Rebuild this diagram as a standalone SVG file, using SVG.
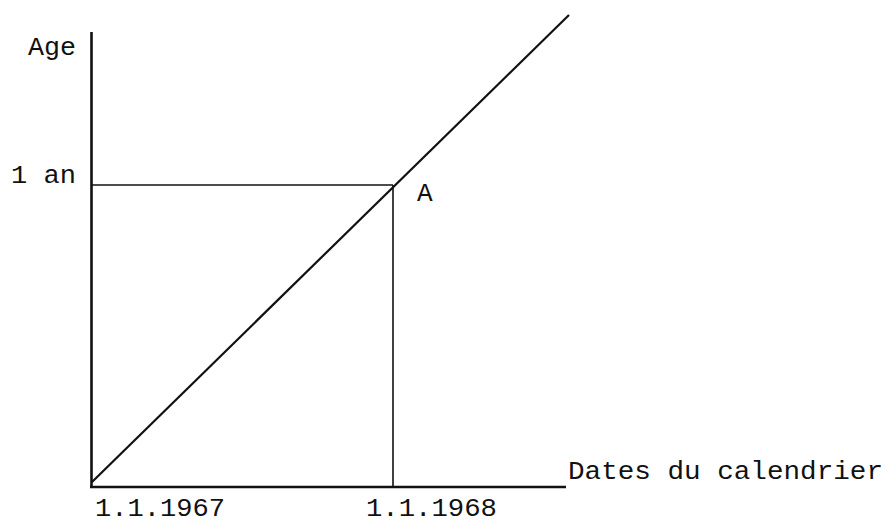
<svg xmlns="http://www.w3.org/2000/svg" width="890" height="526" viewBox="0 0 890 526">
<style>
.t{font-family:"Liberation Mono","Courier New",monospace;font-size:26px;fill:#111}
.ax{stroke:#111;stroke-width:2.6;fill:none}
.ln{stroke:#111;stroke-width:1.6;fill:none}
.dg{stroke:#111;stroke-width:2.2;fill:none}
</style>
<rect width="890" height="526" fill="#fff"/>
<g id="connectors">
<line class="ax" x1="91.5" y1="32" x2="91.5" y2="488"/>
<line class="ax" x1="90" y1="487" x2="566" y2="487"/>
<line class="ln" x1="92" y1="185" x2="393" y2="185"/>
<line class="ln" x1="393" y1="185" x2="393" y2="487"/>
<line class="dg" x1="92" y1="482" x2="569" y2="15"/>
</g>
<g id="label-age"><text class="t" x="28" y="55" textLength="48" lengthAdjust="spacingAndGlyphs">Age</text></g>
<g id="label-1an"><text class="t" x="11" y="183" textLength="65" lengthAdjust="spacingAndGlyphs">1 an</text></g>
<g id="label-A"><text class="t" x="417" y="201">A</text></g>
<g id="label-1967"><text class="t" x="95" y="516" textLength="130" lengthAdjust="spacingAndGlyphs">1.1.1967</text></g>
<g id="label-1968"><text class="t" x="366" y="516" textLength="131" lengthAdjust="spacingAndGlyphs">1.1.1968</text></g>
<g id="label-dates"><text class="t" x="568" y="479" textLength="315" lengthAdjust="spacingAndGlyphs">Dates du calendrier</text></g>
</svg>
